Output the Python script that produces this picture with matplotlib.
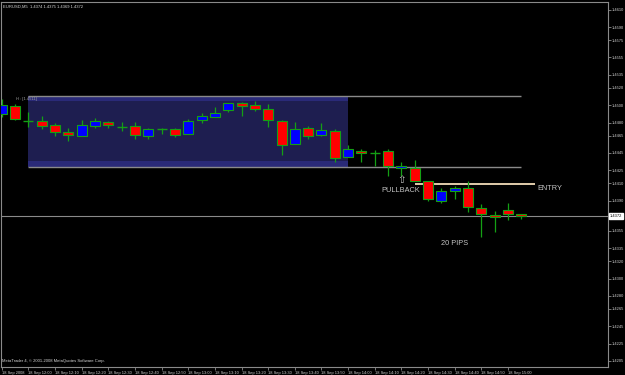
import matplotlib
matplotlib.use("Agg")
import matplotlib.pyplot as plt
from matplotlib.patches import Rectangle
import matplotlib.transforms as mtransforms

# EURUSD M5 bars, 18 Sep 2008, 11:50 .. 15:05
times = ['11:50', '11:55', '12:00', '12:05', '12:10', '12:15', '12:20', '12:25',
         '12:30', '12:35', '12:40', '12:45', '12:50', '12:55', '13:00', '13:05',
         '13:10', '13:15', '13:20', '13:25', '13:30', '13:35', '13:40', '13:45',
         '13:50', '13:55', '14:00', '14:05', '14:10', '14:15', '14:20', '14:25',
         '14:30', '14:35', '14:40', '14:45', '14:50', '14:55', '15:00', '15:05']
opens = [1.4490, 1.4499, 1.4482, 1.4482, 1.4477, 1.4469, 1.4465, 1.4476,
         1.4481, 1.4475, 1.4476, 1.4465, 1.4472, 1.4473, 1.4467, 1.4483,
         1.4486, 1.4495, 1.4503, 1.4500, 1.4496, 1.4482, 1.4455, 1.4474,
         1.4466, 1.4470, 1.4440, 1.4447, 1.4445, 1.4447, 1.4427, 1.4428,
         1.4413, 1.4390, 1.4401, 1.4405, 1.4381, 1.4373, 1.4379, 1.4374]
highs = [1.4507, 1.4501, 1.4492, 1.4488, 1.4480, 1.4474, 1.4483, 1.4485,
         1.4482, 1.4481, 1.4481, 1.4474, 1.4474, 1.4474, 1.4484, 1.4491,
         1.4498, 1.4502, 1.4504, 1.4505, 1.4501, 1.4483, 1.4481, 1.4476,
         1.4480, 1.4472, 1.4454, 1.4449, 1.4448, 1.4449, 1.4435, 1.4437,
         1.4413, 1.4404, 1.4407, 1.4412, 1.4386, 1.4378, 1.4387, 1.4375]
lows = [1.4486, 1.4483, 1.4475, 1.4472, 1.4464, 1.4459, 1.4464, 1.4474,
        1.4474, 1.4470, 1.4461, 1.4461, 1.4467, 1.4463, 1.4467, 1.4480,
        1.4486, 1.4492, 1.4487, 1.4493, 1.4475, 1.4442, 1.4455, 1.4461,
        1.4464, 1.4434, 1.4440, 1.4435, 1.4430, 1.4418, 1.4418, 1.4412,
        1.4390, 1.4387, 1.4392, 1.4377, 1.4348, 1.4354, 1.4367, 1.4369]
closes = [1.4500, 1.4484, 1.4482, 1.4476, 1.4469, 1.4466, 1.4477, 1.4482,
          1.4477, 1.4475, 1.4466, 1.4472, 1.4472, 1.4466, 1.4482, 1.4487,
          1.4491, 1.4502, 1.4499, 1.4496, 1.4483, 1.4454, 1.4473, 1.4465,
          1.4471, 1.4439, 1.4449, 1.4445, 1.4445, 1.4430, 1.4430, 1.4412,
          1.4392, 1.4401, 1.4404, 1.4383, 1.4374, 1.4371, 1.4374, 1.4372]

price_ticks = [1.4610, 1.4590, 1.4575, 1.4555, 1.4535, 1.4520, 1.4500, 1.4480,
               1.4465, 1.4445, 1.4425, 1.4410, 1.4390, 1.4355, 1.4335, 1.4320,
               1.4300, 1.4280, 1.4265, 1.4245, 1.4225, 1.4205]

# drawn objects
box_top = 1.4511
box_bottom = 1.4429
box_start, box_end = 2, 26          # bar index
line_start, line_end = 2, 39
entry_price = 1.4409
entry_start, entry_end = 31, 40
bid = 1.4372

grey = '#8a8a8a'
txt = '#c4c4c4'
wick = '#14a014'
bull = '#0000ff'
bear = '#ff0000'

fig = plt.figure(figsize=(6.25, 3.75), dpi=100, facecolor='black')
ax = fig.add_axes([1 / 625, 8 / 375, 607 / 625, 365 / 375])
ax.set_facecolor('black')
ax.set_xlim(-0.05, 45.5)
ax.set_ylim(1.4198, 1.4619)

# rectangle zone
ax.add_patch(Rectangle((box_start, box_bottom), box_end - box_start, box_top - box_bottom,
                       facecolor='#1e1e50', edgecolor='none', zorder=1))
band = (box_top - box_bottom) * 0.08
ax.add_patch(Rectangle((box_start, box_top - band), box_end - box_start, band,
                       facecolor='#2a2a78', edgecolor='none', zorder=1))
ax.add_patch(Rectangle((box_start, box_bottom), box_end - box_start, band,
                       facecolor='#2a2a78', edgecolor='none', zorder=1))

ax.hlines([box_top, box_bottom], line_start, line_end, colors=grey, lw=1.0, zorder=2)
ax.axhline(bid, color=grey, lw=0.8, zorder=2)
ax.hlines(entry_price, entry_start, entry_end, colors='#f2dcb8', lw=1.3, zorder=2)

# candles
w = 0.75
for i in range(len(times)):
    o, h, l, c = opens[i], highs[i], lows[i], closes[i]
    ax.vlines(i, l, h, colors=wick, lw=0.9, zorder=3)
    if o == c:
        ax.hlines(o, i - w / 2, i + w / 2, colors=wick, lw=1.0, zorder=4)
    else:
        col = bull if c > o else bear
        ax.add_patch(Rectangle((i - w / 2, min(o, c)), w, abs(c - o),
                               facecolor=col, edgecolor=wick, lw=0.8, zorder=4))

# annotations
ax.text(1.1, 1.45071, 'H : [1.4511]', color='#a0a0a0', fontsize=3,
        family='Liberation Sans', va='center', ha='left', zorder=5)
ax.text(29.98, 1.44136, '\u21e7', color=txt, fontsize=7.5, va='center', ha='center')
ax.text(29.94, 1.4402, 'PULLBACK', color=txt, fontsize=5.3,
        family='Liberation Sans', va='center', ha='center')
ax.text(41.15, 1.44038, 'ENTRY', color=txt, fontsize=5.3,
        family='Liberation Sans', va='center', ha='center')
ax.text(34.0, 1.43408, '20 PIPS', color=txt, fontsize=5.3,
        family='Liberation Sans', va='center', ha='center')

# header and footer
ax.text(0.004, 0.993, 'EURUSD,M5  1.4374 1.4375 1.4369 1.4372', transform=ax.transAxes,
        color='#d8d8d8', fontsize=3, family='Liberation Sans', va='top', ha='left')
ax.text(0.002, 0.012, 'MetaTrader 4, \u00a9 2001-2008 MetaQuotes Software Corp.',
        transform=ax.transAxes, color='#d8d8d8', fontsize=3, family='Liberation Sans',
        va='bottom', ha='left')

# axes
for s in ax.spines.values():
    s.set_color(grey)
    s.set_linewidth(0.8)
ax.yaxis.tick_right()
ax.set_yticks(price_ticks)
ax.set_yticklabels([f'{p:.4f}' for p in price_ticks])
ax.tick_params(axis='y', colors=grey, labelcolor='#d0d0d0', labelsize=2.9,
               length=2, width=0.6, pad=1)

xt = list(range(0, len(times), 2))
xl = ['18 Sep 2008'] + ['18 Sep ' + times[i] for i in xt[1:]]
ax.set_xticks(xt)
ax.set_xticklabels(xl)
ax.tick_params(axis='x', colors=grey, labelcolor='#d0d0d0', labelsize=2.9,
               length=2, width=0.6, pad=0.8)
for lab in ax.get_xticklabels() + ax.get_yticklabels():
    lab.set_family('Liberation Sans')
for lab in ax.get_xticklabels():
    lab.set_ha('left')

# bid price box on the axis
trans = mtransforms.blended_transform_factory(ax.transAxes, ax.transData)
ax.text(1.003, bid, f'{bid:.4f}', transform=trans, color='black', fontsize=2.9,
        family='Liberation Sans', va='center', ha='left',
        bbox=dict(facecolor='white', edgecolor='white', pad=0.6), clip_on=False)

fig.savefig('out.png', dpi=100, facecolor='black')
